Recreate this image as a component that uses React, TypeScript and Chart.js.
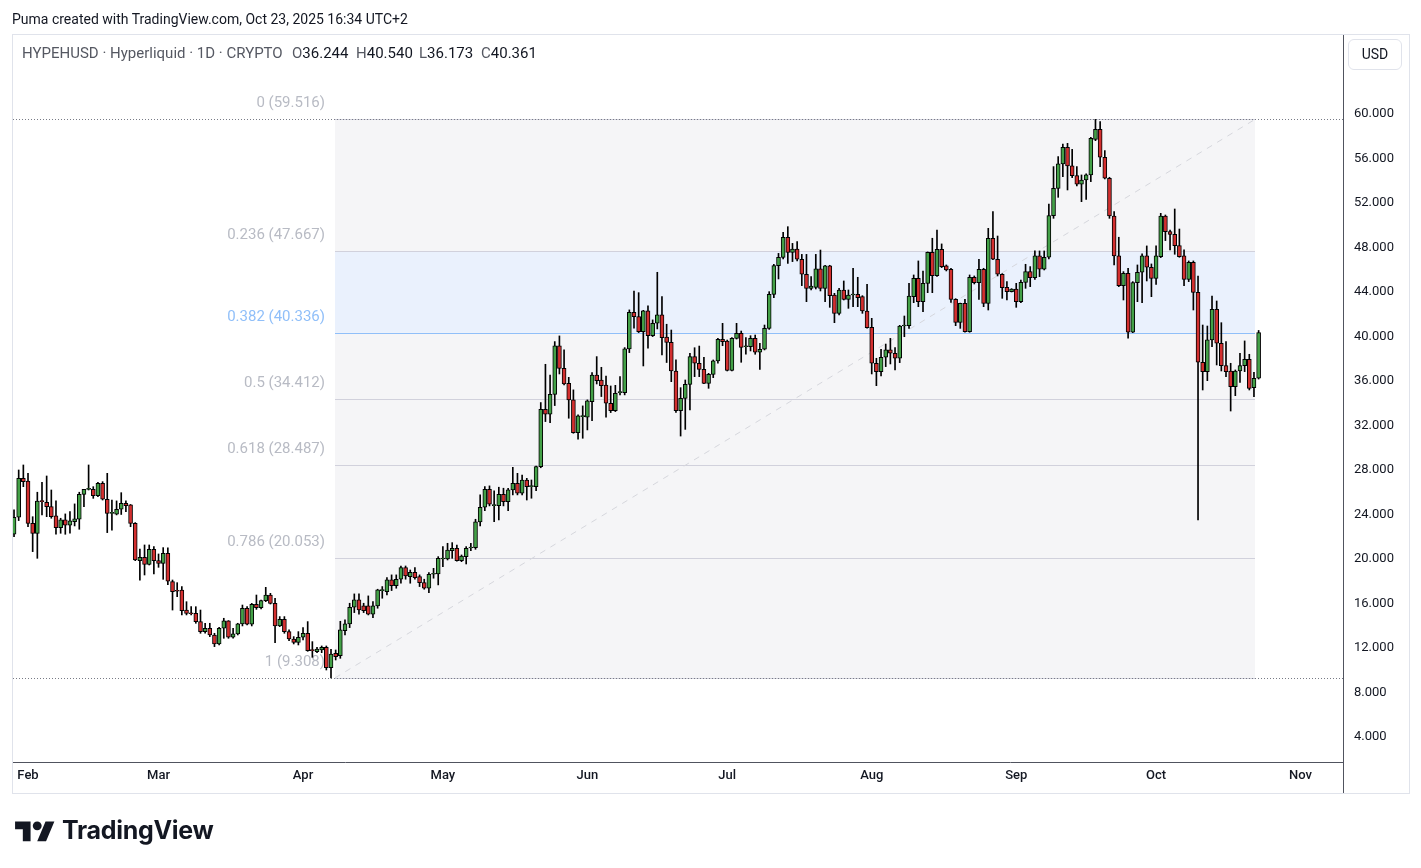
import React, { useEffect, useRef } from 'react';
import { Chart, registerables } from 'chart.js';

Chart.register(...registerables);

// Daily candles, index 0 = Jan 29 2025 ... index 267 = Oct 23 2025
const opens = [
  22.22, 23.75, 27.25, 27.0, 23.2, 22.3, 25.2, 25.1, 24.7, 23.87,
  22.82, 23.51, 23.03, 23.36, 23.57, 25.81, 26.26, 26.26, 25.7, 26.8,
  25.37, 24.1, 24.02, 24.47, 25.0, 24.86, 23.2, 19.85, 20.15, 19.52,
  20.87, 19.85, 19.61, 20.51, 17.96, 17.15, 17.21, 15.41, 15.11, 15.11,
  14.37, 13.47, 13.77, 13.17, 12.36, 13.77, 14.43, 12.96, 13.26, 14.16,
  15.56, 14.13, 15.92, 15.62, 16.25, 16.76, 16.01, 13.98, 14.58, 13.47,
  12.81, 12.51, 12.96, 13.32, 11.79, 11.67, 11.82, 12.06, 10.23, 11.52,
  11.3, 13.56, 14.16, 15.66, 16.32, 15.78, 15.78, 15.03, 15.78, 17.16,
  17.07, 18.12, 17.61, 18.18, 19.22, 18.42, 18.81, 18.42, 17.88, 17.37,
  18.63, 18.66, 20.0, 20.0, 20.75, 20.96, 19.85, 20.21, 20.99, 21.02,
  23.33, 24.65, 26.27, 24.8, 24.8, 25.82, 25.16, 26.21, 26.81, 25.91,
  27.1, 26.51, 26.51, 28.3, 33.46, 33.01, 34.8, 39.15, 37.14, 35.79,
  34.3, 31.36, 32.8, 32.74, 34.15, 36.54, 36.09, 35.64, 34.0, 33.34,
  34.95, 34.95, 38.88, 42.18, 41.79, 40.44, 42.3, 40.08, 41.19, 41.94,
  39.95, 39.47, 36.9, 33.33, 34.44, 35.7, 38.19, 37.59, 37.05, 35.79,
  36.6, 37.8, 39.74, 39.59, 36.96, 39.83, 40.28, 39.08, 39.08, 39.83,
  38.58, 38.85, 40.73, 43.79, 46.37, 47.11, 48.91, 47.56, 47.86, 46.94,
  45.59, 44.33, 44.42, 46.07, 44.33, 46.34, 43.73, 42.08, 44.18, 43.34,
  43.73, 43.79, 43.58, 42.29, 40.82, 37.59, 36.84, 38.13, 38.79, 38.49,
  38.04, 40.94, 40.97, 43.58, 45.23, 43.13, 44.78, 47.57, 45.47, 47.84,
  46.34, 46.04, 43.34, 41.27, 42.98, 40.43, 45.32, 44.84, 46.04, 42.98,
  48.82, 46.94, 45.59, 44.42, 44.03, 44.27, 43.13, 44.87, 45.83, 45.29,
  47.24, 46.04, 47.12, 50.86, 53.32, 55.51, 57.0, 55.33, 54.46, 53.68,
  54.07, 54.52, 57.72, 58.62, 56.11, 54.22, 50.83, 47.24, 44.57, 45.68,
  40.38, 44.84, 45.77, 47.24, 46.22, 45.23, 47.18, 50.83, 49.42, 49.18,
  48.17, 47.24, 45.14, 46.67, 43.97, 37.68, 36.84, 39.69, 42.44, 39.39,
  37.38, 36.9, 35.49, 36.9, 37.38, 37.95, 35.4, 36.244
];
const highs = [
  24.41, 28.0, 28.45, 27.7, 23.8, 26.0, 26.9, 27.46, 26.2, 25.22,
  23.66, 24.05, 24.26, 24.95, 26.0, 26.26, 28.45, 26.5, 26.9, 26.95,
  27.7, 25.3, 25.22, 25.96, 25.22, 24.9, 23.27, 20.9, 21.26, 21.26,
  21.11, 20.45, 21.02, 21.0, 18.11, 17.87, 17.51, 16.16, 15.71, 15.71,
  15.41, 14.22, 14.22, 13.32, 13.86, 14.67, 14.46, 13.77, 14.22, 15.86,
  15.71, 16.01, 16.76, 16.31, 17.45, 16.91, 16.46, 14.82, 14.82, 13.62,
  13.02, 13.47, 13.83, 14.37, 12.57, 12.06, 12.18, 12.18, 11.88, 11.82,
  14.4, 14.52, 16.02, 16.86, 16.86, 16.02, 16.68, 16.17, 17.28, 17.52,
  18.33, 18.57, 18.57, 19.37, 19.37, 19.01, 19.22, 18.57, 18.18, 18.78,
  19.16, 20.21, 21.11, 21.41, 21.47, 21.26, 20.36, 21.11, 21.41, 23.57,
  25.76, 26.51, 26.57, 26.12, 26.45, 26.36, 26.36, 28.24, 27.7, 27.55,
  27.25, 27.1, 28.36, 34.06, 37.5, 36.54, 39.54, 40.05, 38.79, 36.33,
  35.2, 32.95, 33.76, 34.3, 36.75, 38.19, 37.23, 36.45, 35.55, 35.61,
  36.39, 39.0, 42.39, 44.09, 43.94, 42.35, 42.75, 41.49, 45.77, 43.58,
  41.1, 40.58, 37.89, 35.4, 36.09, 38.49, 38.99, 39.14, 38.13, 36.69,
  37.89, 39.83, 41.18, 39.68, 39.89, 41.18, 40.49, 39.89, 40.07, 40.13,
  39.38, 41.03, 44.03, 46.49, 47.47, 49.36, 49.87, 48.37, 48.52, 47.38,
  47.38, 45.38, 47.38, 47.77, 46.4, 46.4, 43.88, 44.33, 44.99, 44.18,
  46.13, 45.32, 43.67, 44.69, 41.63, 38.04, 38.85, 39.32, 39.83, 39.0,
  41.0, 41.84, 44.78, 45.53, 46.79, 45.89, 47.6, 48.83, 49.57, 48.32,
  46.43, 46.13, 43.4, 43.0, 43.34, 45.53, 45.44, 46.94, 46.13, 49.72,
  51.22, 49.03, 45.65, 44.93, 44.3, 44.78, 45.08, 46.49, 46.28, 47.69,
  47.69, 47.69, 51.91, 55.27, 56.17, 57.3, 57.36, 56.82, 55.27, 54.52,
  54.61, 57.9, 59.516, 59.31, 56.71, 54.31, 51.22, 48.92, 45.83, 46.13,
  44.93, 46.43, 47.42, 48.14, 46.52, 48.14, 51.07, 50.92, 49.57, 51.46,
  49.66, 47.78, 46.79, 46.79, 45.44, 41.03, 40.94, 43.64, 43.19, 41.24,
  39.54, 37.59, 36.99, 38.49, 39.6, 38.4, 36.78, 40.54
];
const lows = [
  22.01, 23.45, 26.5, 22.9, 20.66, 20.06, 23.96, 23.8, 23.66, 22.22,
  22.31, 22.22, 22.31, 22.97, 22.67, 24.71, 26.2, 25.45, 25.6, 25.3,
  22.37, 22.6, 23.96, 24.0, 24.26, 22.9, 19.85, 18.1, 18.56, 19.46,
  18.65, 19.25, 18.17, 17.7, 15.41, 16.61, 14.97, 14.97, 14.97, 14.22,
  13.32, 13.32, 13.02, 12.12, 12.27, 12.87, 12.87, 12.87, 13.17, 13.98,
  14.07, 13.98, 15.47, 15.5, 16.16, 15.95, 12.48, 13.92, 13.32, 12.66,
  12.36, 12.27, 12.72, 11.7, 11.16, 11.58, 11.58, 10.02, 9.308, 10.92,
  11.07, 13.17, 13.83, 15.18, 15.03, 15.18, 14.97, 14.73, 15.57, 16.47,
  16.77, 17.16, 17.37, 17.82, 18.18, 17.82, 18.18, 17.52, 17.28, 16.98,
  18.27, 17.67, 19.31, 19.91, 20.06, 19.8, 19.76, 19.55, 20.75, 20.87,
  22.97, 24.35, 24.77, 23.36, 23.51, 24.77, 24.35, 25.76, 25.76, 25.76,
  25.3, 25.46, 26.15, 28.2, 32.35, 32.26, 33.79, 36.63, 35.64, 32.65,
  31.3, 30.76, 30.85, 31.6, 32.44, 35.73, 34.6, 32.74, 33.16, 33.25,
  34.75, 34.75, 38.55, 40.74, 40.35, 37.35, 38.94, 39.99, 40.68, 38.34,
  37.66, 35.94, 33.18, 31.05, 31.65, 33.39, 36.39, 36.39, 35.75, 35.34,
  36.3, 37.59, 39.17, 36.9, 36.9, 39.77, 37.68, 38.4, 38.7, 38.4,
  37.05, 38.79, 40.64, 43.49, 45.17, 46.97, 46.57, 46.73, 46.79, 44.57,
  43.13, 44.18, 44.27, 44.09, 43.13, 42.62, 41.24, 41.93, 43.28, 42.53,
  42.68, 42.68, 42.08, 40.75, 36.63, 35.58, 36.45, 37.29, 37.53, 36.99,
  37.65, 39.98, 40.73, 43.04, 42.68, 42.23, 43.94, 43.94, 45.4, 46.19,
  45.89, 43.07, 40.97, 40.73, 40.38, 40.38, 44.72, 43.34, 42.68, 42.38,
  46.9, 45.44, 43.43, 43.28, 44.0, 42.62, 43.04, 44.33, 44.48, 45.14,
  45.38, 45.98, 46.97, 50.62, 52.51, 54.37, 53.17, 54.28, 53.53, 52.12,
  52.33, 53.92, 57.6, 55.27, 54.16, 50.62, 46.43, 44.48, 43.28, 39.84,
  40.34, 43.13, 43.04, 44.99, 43.58, 44.69, 47.09, 48.62, 47.78, 47.39,
  47.12, 44.57, 44.93, 42.38, 23.51, 35.19, 36.03, 39.09, 37.44, 36.9,
  36.39, 33.3, 34.68, 35.88, 36.84, 35.19, 34.6, 36.173
];
const closes = [
  23.75, 27.25, 26.95, 23.2, 22.3, 25.2, 25.15, 24.7, 23.8, 22.82,
  23.51, 23.03, 23.42, 23.6, 25.81, 26.26, 26.3, 25.7, 26.8, 25.37,
  24.1, 24.12, 24.47, 25.0, 24.8, 23.2, 19.91, 20.15, 19.52, 20.87,
  19.85, 19.61, 20.51, 18.0, 17.06, 17.1, 15.35, 15.11, 15.08, 14.37,
  13.47, 13.77, 13.17, 12.36, 13.77, 14.43, 12.96, 13.26, 14.16, 15.56,
  14.13, 15.92, 15.62, 16.25, 16.76, 16.01, 13.98, 14.58, 13.47, 12.81,
  12.51, 12.96, 13.32, 11.76, 11.76, 11.91, 12.06, 10.23, 11.46, 11.22,
  13.62, 14.16, 15.66, 16.32, 15.42, 15.36, 15.03, 15.78, 17.22, 17.22,
  18.12, 17.61, 18.18, 19.22, 18.48, 18.81, 18.33, 17.88, 17.37, 18.63,
  18.66, 20.06, 20.03, 20.81, 20.96, 19.85, 20.27, 20.96, 21.02, 23.33,
  24.65, 26.27, 24.92, 24.82, 25.82, 25.16, 26.21, 26.81, 25.91, 27.1,
  26.51, 26.53, 28.3, 33.46, 33.01, 34.8, 39.15, 37.14, 35.73, 34.3,
  31.36, 32.86, 32.8, 34.21, 36.54, 36.03, 35.58, 34.0, 33.34, 34.9,
  34.95, 38.88, 42.18, 41.79, 40.44, 42.3, 40.08, 41.19, 41.94, 39.9,
  39.46, 36.9, 33.33, 34.44, 35.7, 38.19, 37.59, 37.05, 35.79, 36.6,
  37.8, 39.74, 39.53, 36.96, 39.83, 40.28, 39.02, 39.1, 39.83, 38.58,
  38.85, 40.73, 43.79, 46.37, 47.11, 48.91, 47.56, 47.86, 46.94, 45.59,
  44.33, 44.54, 46.07, 44.33, 46.34, 43.67, 42.08, 44.18, 43.34, 43.73,
  43.76, 43.49, 42.29, 40.79, 37.59, 36.84, 38.13, 38.79, 38.49, 38.04,
  40.94, 40.97, 43.64, 45.23, 43.13, 44.78, 47.57, 45.47, 47.84, 46.28,
  45.98, 43.34, 41.27, 42.98, 40.43, 45.32, 44.84, 46.04, 42.98, 48.83,
  46.94, 45.59, 44.39, 44.03, 44.27, 43.13, 44.87, 45.83, 45.29, 47.24,
  46.04, 47.12, 50.86, 53.32, 55.51, 57.0, 55.33, 54.46, 53.68, 54.07,
  54.52, 57.81, 58.62, 56.11, 54.22, 50.83, 47.24, 44.57, 45.68, 40.38,
  44.84, 45.77, 47.24, 46.22, 45.23, 47.24, 50.83, 49.42, 49.18, 48.17,
  47.18, 45.14, 46.67, 43.97, 37.68, 36.84, 39.69, 42.44, 39.39, 37.38,
  36.84, 35.49, 36.9, 37.38, 37.95, 35.34, 36.244, 40.361
];

const monthTicks = [3, 31, 62, 92, 123, 153, 184, 215, 245, 276];
const monthLabels = ['Feb', 'Mar', 'Apr', 'May', 'Jun', 'Jul', 'Aug', 'Sep', 'Oct', 'Nov'];
const priceTicks = [4, 8, 12, 16, 20, 24, 28, 32, 36, 40, 44, 48, 52, 56, 60];

const fibRatios = [0, 0.236, 0.382, 0.5, 0.618, 0.786, 1];
const fibHigh = 59.5158;
const fibLow = 9.3081;
const fibStartIndex = 68.9;
const fibEndIndex = 266.2;

const UP = '#43a047';
const DOWN = '#d32f2f';
const FONT = "Roboto, 'Liberation Sans', sans-serif";

const fibPlugin = {
  id: 'fibPlugin',
  beforeDatasetsDraw(chart: any) {
    const { ctx, chartArea, scales } = chart;
    const x = scales.x;
    const y = scales.y;
    const x0 = Math.round(x.getPixelForValue(fibStartIndex));
    const x1 = Math.round(x.getPixelForValue(fibEndIndex));
    const levels = fibRatios.map((r) => ({ r, v: fibHigh - r * (fibHigh - fibLow) }));
    ctx.save();
    const yTop = y.getPixelForValue(fibHigh);
    const yBot = y.getPixelForValue(fibLow);
    ctx.fillStyle = '#f5f5f7';
    ctx.fillRect(x0, yTop, x1 - x0, yBot - yTop);
    const yA = y.getPixelForValue(levels[1].v);
    const yB = y.getPixelForValue(levels[2].v);
    ctx.fillStyle = '#eaf1fd';
    ctx.fillRect(x0, yA, x1 - x0, yB - yA);

    levels.forEach((l) => {
      const py = Math.round(y.getPixelForValue(l.v)) + 0.5;
      ctx.setLineDash([]);
      ctx.lineWidth = 1;
      ctx.strokeStyle = l.r === 0.382 ? '#90bff9' : '#d1d1dc';
      ctx.beginPath();
      ctx.moveTo(x0, py);
      ctx.lineTo(x1, py);
      ctx.stroke();
      if (l.r === 0 || l.r === 1) {
        ctx.setLineDash([1, 2]);
        ctx.strokeStyle = '#787b86';
        ctx.beginPath();
        ctx.moveTo(chartArea.left, py);
        ctx.lineTo(chartArea.right, py);
        ctx.stroke();
      }
      ctx.setLineDash([]);
      ctx.font = `15px ${FONT}`;
      ctx.textAlign = 'right';
      ctx.textBaseline = 'middle';
      ctx.fillStyle = l.r === 0.382 ? '#90bff9' : '#b8bbc4';
      ctx.fillText(`${l.r} (${l.v.toFixed(3)})`, x0 - 10, py - 16);
    });

    ctx.setLineDash([6, 6]);
    ctx.strokeStyle = '#d6d7dd';
    ctx.lineWidth = 1;
    ctx.beginPath();
    ctx.moveTo(x0, yBot);
    ctx.lineTo(x1, yTop);
    ctx.stroke();
    ctx.restore();
  },
};

const framePlugin = {
  id: 'framePlugin',
  afterDraw(chart: any) {
    const { ctx, chartArea } = chart;
    ctx.save();
    ctx.strokeStyle = '#e0e3eb';
    ctx.lineWidth = 1;
    const outerRight = chartArea.right + 66;
    const outerBottom = chartArea.bottom + 31;
    ctx.strokeRect(chartArea.left - 0.5, chartArea.top - 0.5, outerRight - chartArea.left + 1, outerBottom - chartArea.top + 1);
    ctx.strokeStyle = '#50535e';
    ctx.beginPath();
    ctx.moveTo(chartArea.left, chartArea.bottom + 0.5);
    ctx.lineTo(chartArea.right, chartArea.bottom + 0.5);
    ctx.moveTo(chartArea.right + 0.5, chartArea.top);
    ctx.lineTo(chartArea.right + 0.5, outerBottom);
    ctx.stroke();
    ctx.restore();
  },
};

const legendItems = [
  { key: 'O', value: '36.244', left: 292 },
  { key: 'H', value: '40.540', left: 356 },
  { key: 'L', value: '36.173', left: 419 },
  { key: 'C', value: '40.361', left: 481 },
];

export default function App() {
  const canvasRef = useRef<HTMLCanvasElement | null>(null);

  useEffect(() => {
    if (!canvasRef.current) return;
    const colors = opens.map((o, i) => (closes[i] >= o ? UP : DOWN));
    const chart = new Chart(canvasRef.current, {
      type: 'bar',
      data: {
        datasets: [
          {
            label: 'body',
            data: opens.map((o, i) => ({ x: i, y: [o, closes[i]] })) as any,
            backgroundColor: colors,
            borderColor: '#000000',
            borderWidth: 1,
            borderSkipped: false,
            barThickness: 4,
            minBarLength: 1,
            grouped: false,
            order: 0,
          } as any,
          {
            label: 'wick',
            data: lows.map((l, i) => ({ x: i, y: [l, highs[i]] })) as any,
            backgroundColor: '#000000',
            borderWidth: 0,
            barThickness: 1,
            grouped: false,
            order: 1,
          } as any,
        ],
      },
      options: {
        responsive: false,
        maintainAspectRatio: false,
        animation: false,
        devicePixelRatio: 1,
        layout: { padding: { left: 13, top: 35, right: 12, bottom: 75 } },
        plugins: { legend: { display: false }, tooltip: { enabled: false } },
        scales: {
          x: {
            type: 'linear',
            min: -0.22,
            max: 285.1,
            offset: false,
            grid: { display: false, drawTicks: false },
            border: { display: false },
            afterBuildTicks: (s: any) => {
              s.ticks = monthTicks.map((v) => ({ value: v }));
            },
            afterFit: (s: any) => {
              s.height = 31;
            },
            ticks: {
              autoSkip: false,
              maxRotation: 0,
              padding: 6,
              color: '#131722',
              font: { family: FONT, size: 13, weight: '500' },
              callback: (v: any) => {
                const k = monthTicks.indexOf(Number(v));
                return k >= 0 ? monthLabels[k] : '';
              },
            },
          },
          y: {
            type: 'linear',
            position: 'right',
            min: 1.75,
            max: 67.1,
            grid: { display: false, drawTicks: false },
            border: { display: false },
            afterBuildTicks: (s: any) => {
              s.ticks = priceTicks.map((v) => ({ value: v }));
            },
            afterFit: (s: any) => {
              s.width = 66;
            },
            ticks: {
              padding: 11,
              color: '#131722',
              font: { family: FONT, size: 13 },
              callback: (v: any) => Number(v).toFixed(3),
            },
          },
        },
      } as any,
      plugins: [fibPlugin, framePlugin],
    });
    return () => chart.destroy();
  }, []);

  return (
    <div style={{ position: 'absolute', left: 0, top: 0, width: 1421, height: 868, background: '#ffffff', fontFamily: FONT, color: '#131722' }}>
      <canvas ref={canvasRef} width={1421} height={868} style={{ position: 'absolute', left: 0, top: 0, width: 1421, height: 868 }} />
      <div style={{ position: 'absolute', left: 12, top: 10, fontSize: 14, lineHeight: '18px', whiteSpace: 'nowrap' }}>
        Puma created with TradingView.com, Oct 23, 2025 16:34 UTC+2
      </div>
      <div style={{ position: 'absolute', left: 22, top: 44, fontSize: 15, lineHeight: '18px', whiteSpace: 'nowrap', color: '#555862' }}>
        HYPEHUSD · Hyperliquid · 1D · CRYPTO
      </div>
      {legendItems.map((it) => (
        <div key={it.key} style={{ position: 'absolute', left: it.left, top: 44, fontSize: 15, lineHeight: '18px', whiteSpace: 'nowrap', color: '#555862' }}>
          {it.key}
          <span style={{ color: '#131722' }}>{it.value}</span>
        </div>
      ))}
      <div style={{ position: 'absolute', left: 1348, top: 39, width: 52, height: 29, border: '1px solid #e0e3eb', borderRadius: 6, fontSize: 14, lineHeight: '29px', textAlign: 'center' }}>
        USD
      </div>
      <svg width={40} height={31} viewBox="0 0 36 28" style={{ position: 'absolute', left: 15, top: 817 }}>
        <path d="M14 22H7V11H0V4h14v18zM28 22h-8l7.5-18h8L28 22z" fill="#131722" />
        <circle cx="20" cy="8" r="4" fill="#131722" />
      </svg>
      <div style={{ position: 'absolute', left: 62, top: 816, fontSize: 25, fontWeight: 700, lineHeight: '28px', letterSpacing: '-0.3px', fontFamily: "Inter, Roboto, sans-serif" }}>
        TradingView
      </div>
    </div>
  );
}
